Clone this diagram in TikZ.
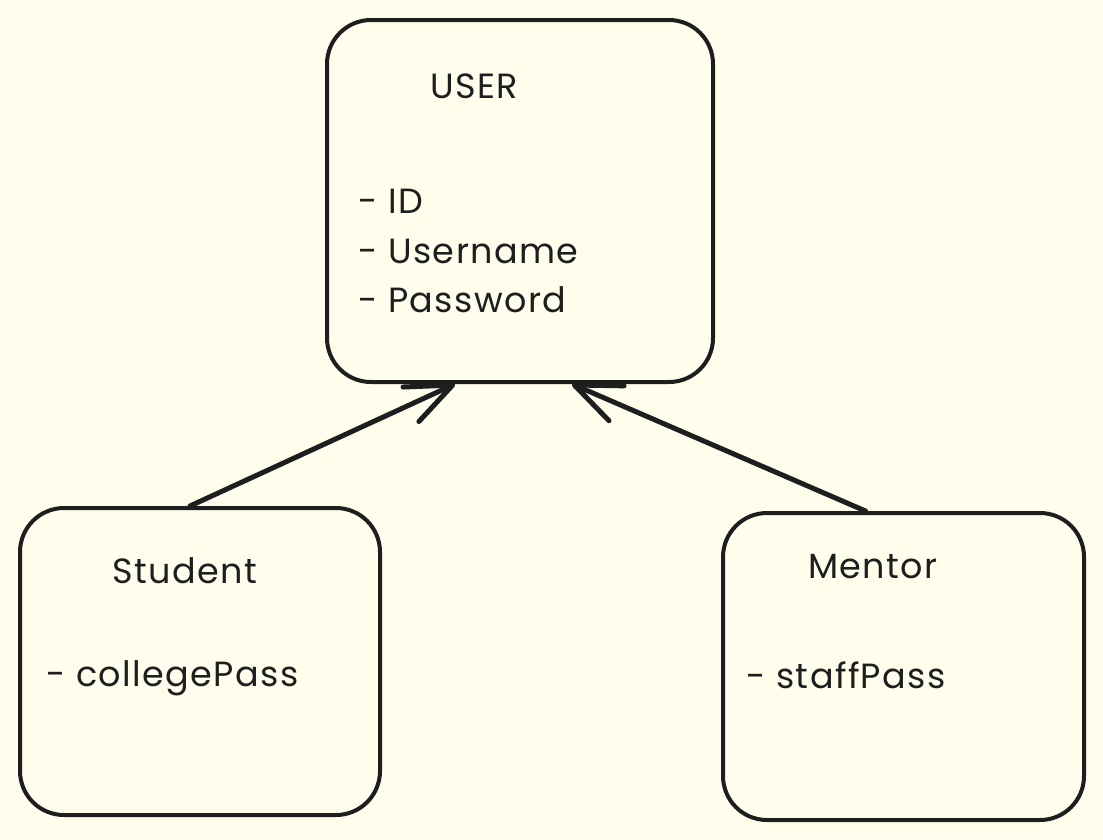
\documentclass[tikz,border=0pt]{standalone}
\usepackage{fontspec}
\setmainfont[LetterSpace=4]{Poppins}
\usetikzlibrary{arrows.meta}
\definecolor{bg}{HTML}{FFFDEC}
\definecolor{ink}{HTML}{1E1E1E}
\tikzset{
  box/.style={draw=ink, line width=4pt, rounded corners=44pt, rectangle, inner sep=0pt},
  lbl/.style={anchor=base west, inner sep=0pt, text=ink, font=\fontsize{35}{42}\selectfont},
  arr/.style={draw=ink, line width=5pt, line cap=round, -{Straight Barb[length=46pt,width=38pt,line cap=round,line join=round]}},
}
\begin{document}
\begin{tikzpicture}[x=1pt,y=-1pt]
\fill[bg] (0,0) rectangle (1103,839);
\useasboundingbox (0,0) rectangle (1103,839);
\node[box, minimum width=386pt, minimum height=362pt] (user) at (520,201) {};
\node[box, minimum width=360pt, minimum height=307pt] (student) at (200,661.5) {};
\node[box, minimum width=361pt, minimum height=307pt] (mentor) at (903.5,666.5) {};
\node[lbl] (t1) at (430,98) {USER};
\node[lbl] (t2) at (358,213) {- ID};
\node[lbl] (t3) at (358,263) {- Username};
\node[lbl] (t4) at (358,312) {- Password};
\node[lbl] (t5) at (112,583) {Student};
\node[lbl] (t6) at (46,686) {- collegePass};
\node[lbl] (t7) at (808,578) {Mentor};
\node[lbl] (t8) at (746,688) {- staffPass};
\draw[arr] ([xshift=-10pt]student.north) -- ([xshift=-65pt]user.south);
\draw[arr] ([xshift=-38pt]mentor.north) -- ([xshift=52pt]user.south);
\end{tikzpicture}
\end{document}
